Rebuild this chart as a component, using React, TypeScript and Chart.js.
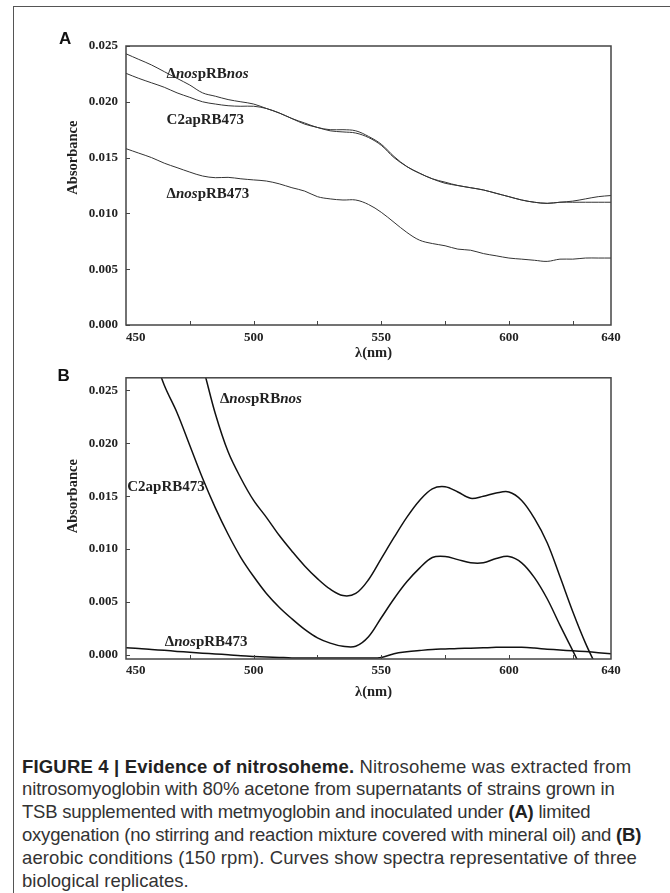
import React, { useEffect, useRef } from "react";
import { Chart, registerables } from "chart.js";

Chart.register(...registerables);

// ---------- data ----------
const wavelengths = [
  450, 455, 460, 465, 470, 475, 480, 485, 490, 495, 500, 505, 510, 515, 520, 525, 530, 535, 540, 545,
  550, 555, 560, 565, 570, 575, 580, 585, 590, 595, 600, 605, 610, 615, 620, 625, 630, 635, 640,
];

// Panel A – limited oxygenation
const absA_nospRBnos = [
  0.0243, 0.0238, 0.0233, 0.0227, 0.0221, 0.0215, 0.0208, 0.0205, 0.0202, 0.02, 0.0198, 0.0194, 0.019,
  0.0185, 0.0181, 0.0177, 0.0175, 0.0175, 0.0174, 0.0169, 0.0162, 0.0151, 0.0142, 0.0136, 0.0131, 0.0128,
  0.0125, 0.0123, 0.0121, 0.0118, 0.0115, 0.0112, 0.011, 0.0109, 0.011, 0.0111, 0.0113, 0.0115, 0.0116,
];
const absA_C2apRB473 = [
  0.02255, 0.0221, 0.0217, 0.0213, 0.0208, 0.0204, 0.02, 0.0198, 0.01965, 0.0196, 0.0196, 0.0194, 0.019,
  0.0185, 0.018, 0.0177, 0.0174, 0.0173, 0.0172, 0.0168, 0.0161, 0.015, 0.0142, 0.0136, 0.0131, 0.0127,
  0.0125, 0.0123, 0.0121, 0.0118, 0.0115, 0.0112, 0.011, 0.0109, 0.011, 0.011, 0.011, 0.011, 0.011,
];
const absA_nospRB473 = [
  0.0158, 0.0154, 0.015, 0.0145, 0.0141, 0.0137, 0.01335, 0.0132, 0.01323, 0.0131, 0.013, 0.0129, 0.01265,
  0.0123, 0.012, 0.0115, 0.0113, 0.0112, 0.0112, 0.0108, 0.0101, 0.0092, 0.0083, 0.0076, 0.0073, 0.0071,
  0.0068, 0.0067, 0.0064, 0.0062, 0.006, 0.0059, 0.0058, 0.0057, 0.0059, 0.0059, 0.006, 0.006, 0.006,
];

// Panel B – aerobic conditions (values above/below the frame are cut off by the plot area)
const absB_nospRBnos = [
  0.05, 0.046, 0.042, 0.038, 0.0355, 0.031, 0.0273, 0.0228, 0.0192, 0.0167, 0.0146, 0.013, 0.0113, 0.0098,
  0.0084, 0.0072, 0.0062, 0.0056, 0.0058, 0.0071, 0.0091, 0.0111, 0.013, 0.0146, 0.0157, 0.0159, 0.0154,
  0.0148, 0.015, 0.0153, 0.0154, 0.0146, 0.0129, 0.0106, 0.0074, 0.0041, 0.0011, -0.0015, -0.0045,
];
const absB_C2apRB473 = [
  0.036, 0.0325, 0.0289, 0.0255, 0.0229, 0.0198, 0.0167, 0.0139, 0.0114, 0.0092, 0.0074, 0.0058, 0.0045,
  0.0034, 0.0024, 0.0016, 0.0011, 0.0008, 0.0008, 0.0017, 0.0035, 0.0053, 0.0069, 0.0082, 0.0092, 0.0093,
  0.009, 0.0087, 0.0087, 0.0091, 0.0093, 0.0087, 0.0073, 0.0053, 0.0028, 0.0004, -0.002, -0.004, -0.006,
];
const absB_nospRB473 = [
  0.00067, 0.0006, 0.0005, 0.00042, 0.00032, 0.00024, 0.00015, 0.00008, 0.0, -0.0001, -0.00016, -0.0002,
  -0.00025, -0.0003, -0.0003, -0.0003, -0.0003, -0.0003, -0.0003, -0.0003, -0.00025, 0.0001, 0.00028,
  0.0004, 0.0005, 0.00055, 0.0006, 0.00062, 0.00066, 0.0007, 0.00071, 0.0007, 0.00063, 0.00053, 0.00045,
  0.00038, 0.0003, 0.0002, 0.0001,
];

const yTickValues = [0, 0.005, 0.01, 0.015, 0.02, 0.025];
const xTickValues = [450, 475, 500, 525, 550, 575, 600, 625, 640];
const xTickLabels = ["450", "", "500", "", "550", "", "600", "", "640"];

// curve labels: [wavelength, absorbance] anchor (left / middle of text)
const labelPosA = [
  [465.9, 0.02246],
  [465.9, 0.01837],
  [465.9, 0.01171],
];
const labelPosB = [
  [486.8, 0.02414],
  [450.5, 0.01583],
  [465.2, 0.0012],
];

type Seg = { t: string; it?: boolean };
const LABEL_NOS_NOS: Seg[] = [{ t: "Δ" }, { t: "nos", it: true }, { t: "pRB" }, { t: "nos", it: true }];
const LABEL_C2: Seg[] = [{ t: "C2apRB473" }];
const LABEL_NOS_473: Seg[] = [{ t: "Δ" }, { t: "nos", it: true }, { t: "pRB473" }];
const curveLabels = [LABEL_NOS_NOS, LABEL_C2, LABEL_NOS_473];

const SERIF = '"Liberation Serif", "DejaVu Serif", serif';
const SANS = '"Liberation Sans", Arial, sans-serif';
const INK = "#222";

type PanelProps = {
  top: number;
  height: number;
  areaTop: number;
  areaBottom: number;
  yMin: number;
  yMax: number;
  series: number[][];
  labelPos: number[][];
  lineWidth: number;
  lineColor: string;
  xLabelGap: number;
  xTitleGap: number;
};

function drawRich(ctx: CanvasRenderingContext2D, segs: Seg[], x: number, y: number) {
  let cx = x;
  ctx.textAlign = "left";
  ctx.textBaseline = "middle";
  for (const s of segs) {
    ctx.font = `${s.it ? "italic " : ""}bold 15px ${SERIF}`;
    ctx.fillText(s.t, cx, y);
    cx += ctx.measureText(s.t).width;
  }
}

function Panel(p: PanelProps) {
  const ref = useRef<HTMLCanvasElement>(null);
  useEffect(() => {
    if (!ref.current) return;
    const decor = {
      id: "decor",
      afterDraw(chart: any) {
        const { ctx, chartArea: a, scales } = chart;
        const xs = scales.x;
        const ys = scales.y;
        ctx.save();
        // frame
        ctx.strokeStyle = "#444";
        ctx.lineWidth = 1.5;
        ctx.strokeRect(a.left, a.top, a.right - a.left, a.bottom - a.top);
        // inner ticks
        ctx.lineWidth = 1;
        ctx.beginPath();
        yTickValues.forEach((v) => {
          const y = Math.round(ys.getPixelForValue(v)) + 0.5;
          ctx.moveTo(a.left, y);
          ctx.lineTo(a.left + 4, y);
        });
        xTickValues.forEach((v) => {
          if (v === 450 || v === 640) return;
          const x = Math.round(xs.getPixelForValue(v)) + 0.5;
          ctx.moveTo(x, a.bottom);
          ctx.lineTo(x, a.bottom - 4);
        });
        ctx.stroke();
        // x tick labels
        ctx.fillStyle = INK;
        ctx.font = `bold 13px ${SERIF}`;
        ctx.textBaseline = "middle";
        xTickValues.forEach((v, i) => {
          const t = xTickLabels[i];
          if (!t) return;
          ctx.textAlign = v === 450 ? "left" : "center";
          ctx.fillText(t, xs.getPixelForValue(v), a.bottom + p.xLabelGap);
        });
        // x title
        ctx.font = `bold 14.5px ${SERIF}`;
        ctx.textAlign = "center";
        ctx.fillText("λ(nm)", (a.left + a.right) / 2 + 5, a.bottom + p.xTitleGap);
        // y title
        ctx.save();
        ctx.translate(73.5, ys.getPixelForValue(0.015));
        ctx.rotate(-Math.PI / 2);
        ctx.font = `bold 14.5px ${SERIF}`;
        ctx.textAlign = "center";
        ctx.textBaseline = "middle";
        ctx.fillText("Absorbance", 0, 0);
        ctx.restore();
        // curve labels
        p.labelPos.forEach((pos, i) => {
          drawRich(ctx, curveLabels[i], xs.getPixelForValue(pos[0]), ys.getPixelForValue(pos[1]));
        });
        ctx.restore();
      },
    };

    const chart = new Chart(ref.current, {
      type: "line",
      data: {
        datasets: p.series.map((vals) => ({
          data: wavelengths.map((x, i) => ({ x, y: vals[i] })),
          borderColor: p.lineColor,
          borderWidth: p.lineWidth,
          pointRadius: 0,
          tension: 0.35,
          fill: false,
          clip: 0,
        })),
      },
      options: {
        animation: false,
        responsive: false,
        maintainAspectRatio: false,
        events: [],
        layout: { padding: { top: p.areaTop, right: 670 - 611, left: 0, bottom: 0 } },
        plugins: { legend: { display: false }, tooltip: { enabled: false } },
        scales: {
          x: {
            type: "linear",
            min: 450,
            max: 640,
            afterBuildTicks: (s: any) => {
              s.ticks = xTickValues.map((v) => ({ value: v }));
            },
            ticks: { display: false },
            grid: { display: false, drawTicks: false },
            border: { display: false },
            afterFit: (s: any) => {
              s.height = p.height - p.areaBottom;
            },
          },
          y: {
            type: "linear",
            min: p.yMin,
            max: p.yMax,
            afterBuildTicks: (s: any) => {
              s.ticks = yTickValues.map((v) => ({ value: v }));
            },
            ticks: {
              callback: (v: any) => Number(v).toFixed(3),
              font: { family: SERIF, weight: "bold", size: 13 },
              color: INK,
              padding: 8,
            },
            grid: { display: false, drawTicks: false },
            border: { display: false },
            afterFit: (s: any) => {
              s.width = 126;
            },
          },
        },
      },
      plugins: [decor],
    } as any);
    return () => chart.destroy();
  }, []);
  return (
    <canvas
      ref={ref}
      width={670}
      height={p.height}
      style={{ position: "absolute", left: 0, top: p.top, width: 670, height: p.height }}
    />
  );
}

// caption lines, each with a small letter-spacing tweak so the line lengths follow the original
const captionLines: { node: React.ReactNode; ls: number }[] = [
  {
    node: (
      <>
        <b style={{ color: "#222" }}>FIGURE 4 | Evidence of nitrosoheme.</b> Nitrosoheme was extracted from
      </>
    ),
    ls: 0.18,
  },
  { node: <>nitrosomyoglobin with 80% acetone from supernatants of strains grown in</>, ls: -0.11 },
  {
    node: (
      <>
        TSB supplemented with metmyoglobin and inoculated under <b style={{ color: "#222" }}>(A)</b> limited
      </>
    ),
    ls: -0.22,
  },
  {
    node: (
      <>
        oxygenation (no stirring and reaction mixture covered with mineral oil) and{" "}
        <b style={{ color: "#222" }}>(B)</b>
      </>
    ),
    ls: -0.22,
  },
  { node: <>aerobic conditions (150 rpm). Curves show spectra representative of three</>, ls: 0.1 },
  { node: <>biological replicates.</>, ls: 0 },
];

export default function App() {
  return (
    <div
      style={{
        position: "absolute",
        left: 0,
        top: 0,
        width: 670,
        height: 893,
        overflow: "hidden",
        background: "#fff",
      }}
    >
      <div
        style={{
          position: "absolute",
          left: 13,
          top: 6,
          width: 720,
          height: 960,
          borderLeft: "1px solid #555",
          borderTop: "1px solid #555",
        }}
      />
      <Panel
        top={0}
        height={362}
        areaTop={46}
        areaBottom={325}
        yMin={0}
        yMax={0.025}
        series={[absA_nospRBnos, absA_C2apRB473, absA_nospRB473]}
        labelPos={labelPosA}
        lineWidth={1}
        lineColor="#333"
        xLabelGap={13}
        xTitleGap={28}
      />
      <Panel
        top={362}
        height={348}
        areaTop={9}
        areaBottom={297}
        yMin={-0.0004}
        yMax={0.0262}
        series={[absB_nospRBnos, absB_C2apRB473, absB_nospRB473]}
        labelPos={labelPosB}
        lineWidth={1.5}
        lineColor="#111"
        xLabelGap={12}
        xTitleGap={33}
      />
      <div
        style={{
          position: "absolute",
          left: 59,
          top: 29.5,
          font: `bold 17px ${SANS}`,
          lineHeight: "17px",
          color: "#111",
        }}
      >
        A
      </div>
      <div
        style={{
          position: "absolute",
          left: 57.5,
          top: 367,
          font: `bold 17px ${SANS}`,
          lineHeight: "17px",
          color: "#111",
        }}
      >
        B
      </div>
      <div
        style={{
          position: "absolute",
          left: 22,
          top: 755.6,
          font: `18.5px ${SANS}`,
          lineHeight: "22.8px",
          color: "#333",
          whiteSpace: "nowrap",
        }}
      >
        {captionLines.map((l, i) => (
          <div key={i} style={{ letterSpacing: `${l.ls}px` }}>
            {l.node}
          </div>
        ))}
      </div>
    </div>
  );
}
